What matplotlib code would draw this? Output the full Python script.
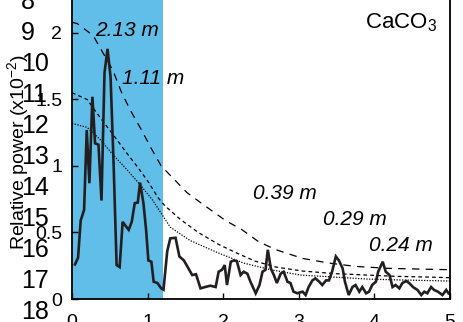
import matplotlib
matplotlib.use('Agg')
import matplotlib.pyplot as plt

plt.rcParams['font.family'] = ['Liberation Sans', 'DejaVu Sans']
plt.rcParams['mathtext.default'] = 'regular'

# Spectrum (frequency in cycles/m, relative power x10^-2)
freq = [0.04, 0.08, 0.115, 0.16, 0.195, 0.23, 0.27, 0.305, 0.35, 0.39, 0.43, 0.47,
        0.51, 0.55, 0.59, 0.63, 0.67, 0.70, 0.75, 0.79, 0.83, 0.87, 0.90, 0.945,
        0.98, 1.01, 1.05, 1.08, 1.13, 1.18, 1.21, 1.26, 1.30, 1.37, 1.42, 1.48,
        1.54, 1.59, 1.64, 1.70, 1.76, 1.83, 1.90, 1.94, 1.985, 2.02, 2.05, 2.10,
        2.14, 2.18, 2.23, 2.27, 2.32, 2.36, 2.43, 2.48, 2.52, 2.56, 2.59, 2.63,
        2.67, 2.71, 2.76, 2.80, 2.85, 2.89, 2.93, 2.98, 3.05, 3.09, 3.13, 3.18,
        3.22, 3.27, 3.31, 3.36, 3.40, 3.44, 3.49, 3.53, 3.58, 3.61, 3.66, 3.71,
        3.75, 3.80, 3.84, 3.89, 3.93, 3.97, 4.02, 4.05, 4.11, 4.15, 4.20, 4.24,
        4.28, 4.33, 4.37, 4.42, 4.46, 4.51, 4.57, 4.62, 4.66, 4.70, 4.75, 4.79,
        4.84, 4.90, 4.95, 4.98]
power = [0.26, 0.31, 0.59, 0.67, 1.27, 0.87, 1.52, 1.17, 1.16, 0.74, 1.70, 1.88,
         1.67, 1.02, 0.255, 0.24, 0.58, 0.556, 0.52, 0.58, 0.72, 0.725, 0.875, 0.72,
         0.52, 0.29, 0.28, 0.13, 0.12, 0.08, 0.07, 0.36, 0.456, 0.46, 0.32, 0.29,
         0.23, 0.18, 0.186, 0.08, 0.09, 0.10, 0.09, 0.205, 0.22, 0.255, 0.105, 0.28,
         0.29, 0.285, 0.18, 0.205, 0.19, 0.13, 0.043, 0.105, 0.205, 0.22, 0.37, 0.23,
         0.18, 0.12, 0.19, 0.205, 0.13, 0.12, 0.055, 0.043, 0.055, 0.03, 0.09, 0.14,
         0.155, 0.13, 0.105, 0.14, 0.14, 0.205, 0.32, 0.29, 0.23, 0.13, 0.03, 0.09,
         0.105, 0.055, 0.09, 0.043, 0.055, 0.105, 0.13, 0.205, 0.28, 0.205, 0.18, 0.09,
         0.105, 0.08, 0.12, 0.135, 0.12, 0.09, 0.068, 0.03, 0.055, 0.043, 0.09, 0.068,
         0.055, 0.03, 0.068, 0.043]

# Confidence levels (red noise)
ci_x1 = [0.0, 0.07, 0.28, 0.40, 0.54, 0.65, 0.77, 0.91, 1.05, 1.18, 1.35, 1.52,
         1.76, 2.03, 2.25, 2.47, 2.70, 3.05, 3.40, 3.75, 4.20, 4.60, 5.0]
ci_y1 = [2.08, 2.07, 1.98, 1.86, 1.72, 1.56, 1.42, 1.28, 1.13, 1.00, 0.90, 0.80,
         0.70, 0.59, 0.52, 0.43, 0.37, 0.305, 0.27, 0.245, 0.23, 0.225, 0.22]
ci_x2 = [0.0, 0.2, 0.3, 0.39, 0.59, 0.72, 0.87, 1.01, 1.14, 1.23, 1.43, 1.67,
         1.94, 2.2, 2.42, 2.7, 3.05, 3.5, 3.9, 4.3, 4.7, 5.0]
ci_y2 = [1.55, 1.50, 1.42, 1.35, 1.20, 1.10, 0.99, 0.88, 0.76, 0.70, 0.60, 0.50,
         0.41, 0.34, 0.285, 0.24, 0.21, 0.19, 0.18, 0.17, 0.165, 0.16]
ci_x3 = [0.0, 0.2, 0.37, 0.55, 0.73, 0.9, 1.07, 1.3, 1.56, 1.92, 2.27, 2.63,
         3.02, 3.46, 3.9, 4.35, 5.0]
ci_y3 = [1.32, 1.29, 1.20, 1.08, 0.97, 0.86, 0.74, 0.54, 0.44, 0.35, 0.27, 0.22,
         0.18, 0.165, 0.15, 0.143, 0.135]

periods = ['2.13 m', '1.11 m', '0.39 m', '0.29 m', '0.24 m']
label_x = [0.305, 0.66, 2.40, 3.32, 3.93]
label_y = [2.015, 1.66, 0.79, 0.60, 0.40]

stray_numbers = [8, 9, 10, 11, 12, 13, 14, 15, 16, 17, 18]

fig = plt.figure(figsize=(4.63, 3.22), dpi=100)
ax = fig.add_axes([72 / 463, 23 / 322, 378 / 463, 306 / 322])

ax.axvspan(0, 1.2, color='#60bee8', lw=0)
ax.plot(ci_x1, ci_y1, color='black', lw=0.9, dashes=(6, 5))
ax.plot(ci_x2, ci_y2, color='black', lw=0.9, dashes=(3, 2.5))
ax.plot(ci_x3, ci_y3, color='black', lw=0.9, dashes=(1, 1.2))
ax.plot(freq, power, color='#231f20', lw=1.9, solid_joinstyle='miter')

for t, x, y in zip(periods, label_x, label_y):
    ax.text(x, y, t, fontsize=15, style='italic', va='center', ha='left')
ax.text(3.87, 2.08, 'CaCO$_3$', fontsize=16, va='center', ha='left')

ax.set_xlim(0, 5)
ax.set_ylim(0, 2.3)
ax.set_xticks([0, 1, 2, 3, 4, 5])
ax.set_yticks([0, 0.5, 1, 1.5, 2])
ax.set_yticklabels(['0', '0.5', '1', '1.5', '2'])
ax.tick_params(direction='in', length=4, width=1, labelsize=14, pad=7)
ax.tick_params(axis='x', pad=11)
for s in ['left', 'bottom', 'right']:
    ax.spines[s].set_linewidth(1.3)
ax.spines['top'].set_visible(False)

fig.text(18 / 463, 1 - 152 / 322, 'Relative power (x10$^{-2}$)', rotation=90,
         fontsize=14, ha='center', va='center')

for i, n in enumerate(stray_numbers):
    fig.text(21 / 463, 1 - (-0.5 + 31 * i) / 322, str(n), fontsize=18,
             ha='left', va='center_baseline')

fig.savefig('out.png', dpi=100)
